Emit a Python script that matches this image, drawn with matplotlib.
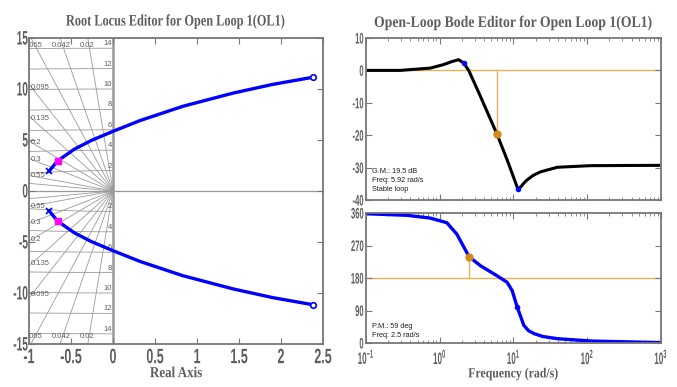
import numpy as np
import matplotlib.pyplot as plt
from matplotlib.patheffects import AbstractPathEffect
from matplotlib.transforms import Affine2D

plt.rcParams['axes.unicode_minus'] = False

# upper branch of the root locus (lower branch is its mirror image)
locus_re = [-0.76, -0.66, -0.46, -0.26, 0.0, 0.32, 0.83, 1.43, 1.9, 2.38]
locus_im = [1.95, 2.95, 4.1, 4.95, 5.85, 6.9, 8.3, 9.6, 10.45, 11.15]
closed_loop_re, closed_loop_im = -0.66, 2.95

# s-grid: damping ratios (labelled) and natural frequencies
zeta_labelled = [0.02, 0.042, 0.065, 0.095, 0.135, 0.2, 0.3, 0.55]
zeta_extra = [0.8]
wn_rings = [2, 4, 6, 8, 10, 12, 14]

# open-loop Bode data
w_mag = [0.1, 0.29, 0.74, 1.13, 1.45, 1.8, 2.11, 2.47, 3.56, 5.92, 8.2,
         11.5, 12.6, 13.8, 15.3, 18.5, 23.3, 39.3, 59.7, 112, 1000]
mag_db = [0, 0, 0.7, 1.8, 2.7, 3.3, 2.3, 0, -8.0, -19.5, -27.6,
          -36.7, -35.9, -34.8, -33.8, -32.4, -31.3, -29.9, -29.7, -29.4, -29.3]
w_ph = [0.1, 0.36, 0.74, 1.25, 1.71, 2.5, 3.56, 6.0, 8.2, 9.6, 11.2, 13.8,
        16, 19, 25, 39, 112, 1000]
phase_deg = [358, 353.6, 346, 333, 301, 239, 214, 186, 168, 145, 100, 49,
             34, 26, 18, 12, 5.5, 1]

gm_db, gm_freq = 19.5, 5.92
pm_deg, pm_freq = 59, 2.5
mag_markers = ([2.11, 11.5], [2.3, -36.7])
ph_markers = ([11.2], [100])

GRAY = '#5e5e5e'
SPINE = '#777777'
ORANGE = '#EBAF55'
ORANGE_DOT = '#D48A1A'
TICKFONT = ['Liberation Sans', 'DejaVu Sans']
TITLEFONT = ['Liberation Serif', 'DejaVu Serif']
SMALLFONT = ['Liberation Sans', 'DejaVu Sans']


class Narrow(AbstractPathEffect):
    """Squeeze text horizontally about one side of its outline."""

    def __init__(self, sx=0.55, anchor='center'):
        super().__init__()
        self.sx = sx
        self.anchor = anchor

    def draw_path(self, renderer, gc, tpath, affine, rgbFace=None):
        bb = tpath.get_extents(affine)
        x0 = {'left': bb.x0, 'right': bb.x1,
              'center': 0.5 * (bb.x0 + bb.x1)}[self.anchor]
        aff = affine + Affine2D().translate(-x0, 0).scale(self.sx, 1) \
            .translate(x0, 0)
        renderer.draw_path(gc, tpath, aff, rgbFace)


def style_axes(ax, size, sx_x, sx_y):
    for s in ax.spines.values():
        s.set_color(SPINE)
        s.set_linewidth(1.3)
    ax.tick_params(which='both', direction='in', top=True, right=True,
                   color=SPINE, labelcolor=GRAY, labelsize=size)
    ax.tick_params(which='major', length=4)
    ax.tick_params(which='minor', length=2)
    for lab in ax.get_xticklabels():
        lab.set_family(TICKFONT)
        lab.set_fontweight('bold')
        lab.set_path_effects([Narrow(sx_x, 'center')])
    for lab in ax.get_yticklabels():
        lab.set_family(TICKFONT)
        lab.set_fontweight('bold')
        lab.set_path_effects([Narrow(sx_y, 'right')])


def heading(ax, text, size, pad, sx):
    t = ax.set_title(text, fontsize=size, fontweight='bold', color=GRAY,
                     family=TITLEFONT, pad=pad)
    t.set_path_effects([Narrow(sx, 'center')])


def axis_label(ax, text, size, pad, sx=0.85):
    t = ax.set_xlabel(text, fontsize=size, fontweight='bold', color=GRAY,
                      family=TITLEFONT, labelpad=pad)
    t.set_path_effects([Narrow(sx, 'center')])


fig = plt.figure(figsize=(6.77, 3.87), dpi=100)

# ---- root locus ----
ax = fig.add_axes([29 / 677, 1 - 344 / 387, 294 / 677, 306 / 387])
ax.set_xlim(-1, 2.5)
ax.set_ylim(-15, 15)

t = np.linspace(np.pi / 2, 3 * np.pi / 2, 200)
for r in wn_rings:
    ax.plot(r * np.cos(t), r * np.sin(t), color='#9a9a9a', lw=0.6, zorder=1)
    for sgn in (1, -1):
        ax.text(-0.015, sgn * r + 0.1, str(r), ha='right', va='bottom',
                fontsize=5.5, color=GRAY, family=SMALLFONT)
for z in zeta_labelled + zeta_extra:
    d = np.sqrt(1 - z ** 2)
    for sgn in (1, -1):
        ax.plot([0, -z * 40], [0, sgn * d * 40], color='#9a9a9a', lw=0.6,
                zorder=1)
for z in zeta_labelled:
    slope = np.sqrt(1 - z ** 2) / z
    for sgn in (1, -1):
        if slope * 0.97 < 14:
            ax.text(-0.975, sgn * slope * 0.97, str(z), fontsize=5.5,
                    color=GRAY, family=SMALLFONT, ha='left', va='center')
        else:
            ax.text(-14.3 / slope - 0.02, sgn * 14.3, str(z), fontsize=5.5,
                    color=GRAY, family=SMALLFONT, ha='center', va='center',
                    clip_on=True)

ax.axvline(0, color='#999999', lw=1.8, zorder=1)
ax.axhline(0, color='#999999', lw=0.9, zorder=1)

re = np.array(locus_re)
im = np.array(locus_im)
for sgn in (1, -1):
    ax.plot(re, sgn * im, color='#0000FF', lw=2.4, zorder=3)
    ax.plot(re[0], sgn * im[0], 'x', color='#0000FF', ms=4, mew=1.2, zorder=4)
    ax.plot(re[-1], sgn * im[-1], 'o', mfc='white', mec='#0000FF', ms=4,
            mew=1.2, zorder=4)
    ax.plot(closed_loop_re, sgn * closed_loop_im, 's', color='#FF00FF', ms=4,
            zorder=5)

ax.set_xticks([-1, -0.5, 0, 0.5, 1, 1.5, 2, 2.5])
ax.set_xticklabels(['-1', '-0.5', '0', '0.5', '1', '1.5', '2', '2.5'])
ax.set_yticks([-15, -10, -5, 0, 5, 10, 15])
style_axes(ax, 15, 0.6, 0.52)
ax.tick_params(axis='x', pad=3)
ax.tick_params(axis='y', labelsize=14, pad=0.5)
heading(ax, 'Root Locus Editor for Open Loop 1(OL1)', 11.5, 9, 0.77)
axis_label(ax, 'Real Axis', 11, 0)

# ---- Bode magnitude ----
axm = fig.add_axes([366 / 677, 1 - 200 / 387, 295 / 677, 162 / 387])
axm.set_xscale('log')
axm.set_xlim(0.1, 1000)
axm.set_ylim(-40, 10)
axm.axhline(0, color=ORANGE, lw=1, zorder=1)
axm.plot([gm_freq, gm_freq], [0, -gm_db], color=ORANGE, lw=1, zorder=1)
axm.plot(w_mag, mag_db, color='black', lw=2.2, zorder=2)
axm.plot(gm_freq, -gm_db, 'o', color=ORANGE_DOT, ms=5, zorder=3)
axm.plot(mag_markers[0], mag_markers[1], 'o', color='#0000FF', ms=3, zorder=3)
axm.set_yticks([-40, -30, -20, -10, 0, 10])
axm.set_xticklabels([], minor=True)
axm.tick_params(labelbottom=False)
style_axes(axm, 11, 0.5, 0.5)
axm.tick_params(axis='y', pad=1.5)
heading(axm, 'Open-Loop Bode Editor for Open Loop 1(OL1)', 11.5, 8, 0.86)
axm.text(0.02, 0.2, 'G.M.: %.1f dB\nFreq: %.2f rad/s\nStable loop' %
         (gm_db, gm_freq), transform=axm.transAxes, fontsize=5.3,
         family=SMALLFONT, va='top', linespacing=1.4, color='#222222')

# ---- Bode phase ----
axp = fig.add_axes([366 / 677, 1 - 343 / 387, 295 / 677, 130 / 387])
axp.set_xscale('log')
axp.set_xlim(0.1, 1000)
axp.set_ylim(0, 360)
axp.axhline(180, color=ORANGE, lw=1, zorder=1)
axp.plot([pm_freq, pm_freq], [180, 180 + pm_deg], color=ORANGE, lw=1, zorder=1)
axp.plot(w_ph, phase_deg, color='#0000FF', lw=2.4, zorder=2)
axp.plot(pm_freq, 180 + pm_deg, 'o', color=ORANGE_DOT, ms=5, zorder=3)
axp.plot(ph_markers[0], ph_markers[1], 'o', color='#0000FF', ms=3, zorder=3)
axp.set_yticks([0, 90, 180, 270, 360])
axp.set_xticks([0.1, 1, 10, 100, 1000])
axp.set_xticklabels([r'$\mathregular{10^{-1}}$', r'$\mathregular{10^{0}}$',
                     r'$\mathregular{10^{1}}$', r'$\mathregular{10^{2}}$',
                     r'$\mathregular{10^{3}}$'])
axp.set_xticklabels([], minor=True)
style_axes(axp, 12, 0.48, 0.5)
axp.tick_params(axis='y', labelsize=11, pad=1.5)
axp.tick_params(axis='x', pad=3)
axp.text(0.02, 0.155, 'P.M.: %d deg\nFreq: %.1f rad/s' % (pm_deg, pm_freq),
         transform=axp.transAxes, fontsize=5.3, family=SMALLFONT, va='top',
         linespacing=1.4, color='#222222')
axis_label(axp, 'Frequency (rad/s)', 10, 0)

fig.savefig('out.png', dpi=100)
